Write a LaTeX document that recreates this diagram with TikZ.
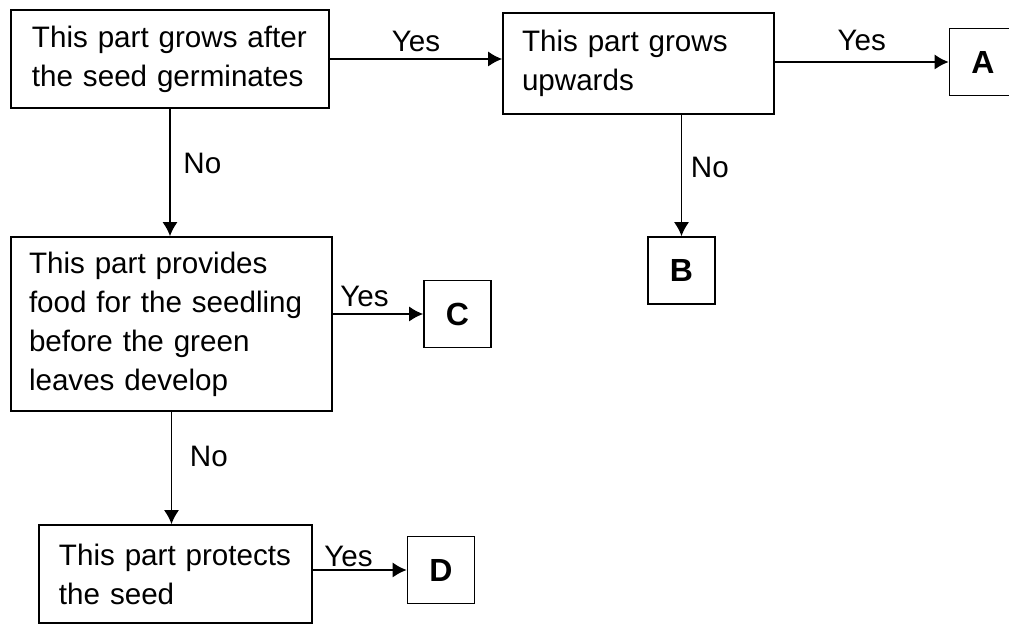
\documentclass[tikz,border=0pt]{standalone}
\usepackage{fontspec}
\setmainfont{Liberation Sans}
\usetikzlibrary{arrows.meta,positioning}
\newcommand{\qfont}{\fontsize{14.8}{19.5}\selectfont}

\begin{document}
\begin{tikzpicture}[x=0.5pt, y=-0.5pt, >={Latex[length=7pt,width=7.5pt]}, line width=0.8pt,
        question/.style={draw, align=left, font=\qfont, inner ysep=0pt},
        answer/.style={draw, minimum size=33.5pt, font=\fontsize{16}{19}\selectfont\bfseries},
        lbl/.style={font=\qfont}]
        \useasboundingbox (0,0) rectangle (1009,625);
        \clip (0,0) rectangle (1009,625);

        % questions
        \node[question, text width=138pt, inner xsep=10.5pt, minimum height=49pt] (grow) at (170,59) {This part grows after\\the seed germinates};
        \node[question, text width=116.5pt, inner xsep=9.5pt, minimum height=50.5pt] (up) at (638.5,63.5) {This part grows\\upwards};
        \node[question, text width=142.5pt, inner xsep=9pt, minimum height=87pt] (food) at (171.5,324) {This part provides\\food for the seedling\\before the green\\leaves develop};
        \node[question, text width=116.5pt, inner xsep=10pt, minimum height=49pt] (protect) at (175.5,574) {This part protects\\the seed};

        % answers
        \node[answer] (A) at (983,62) {A};
        \node[answer] (B) at (681.5,270.5) {B};
        \node[answer] (C) at (457.5,314) {C};
        \node[answer] (D) at (441,570) {D};

        % yes branches
        \draw[->] (grow.east) -- (grow.east -| up.west) node[lbl, midway, above] {Yes};
        \draw[->] (up.east |- A) -- (A) node[lbl, midway, above=2pt] {Yes};
        \draw[->] (food.east |- C) -- (C) node[lbl, pos=0.35, above] {Yes};
        \draw[->] (protect.east |- D) -- (D) node[lbl, pos=0.38, above=-2pt] {Yes};

        % no branches
        \draw[->] (grow.south) -- (grow.south |- food.north) node[lbl, pos=0.43, right=3pt] {No};
        \draw[->] (up.south -| B.north) -- (B.north) node[lbl, pos=0.43, right=1pt] {No};
        \draw[->] (food.south) -- (food.south |- protect.north) node[lbl, pos=0.4, right=5.5pt] {No};
\end{tikzpicture}
\end{document}
